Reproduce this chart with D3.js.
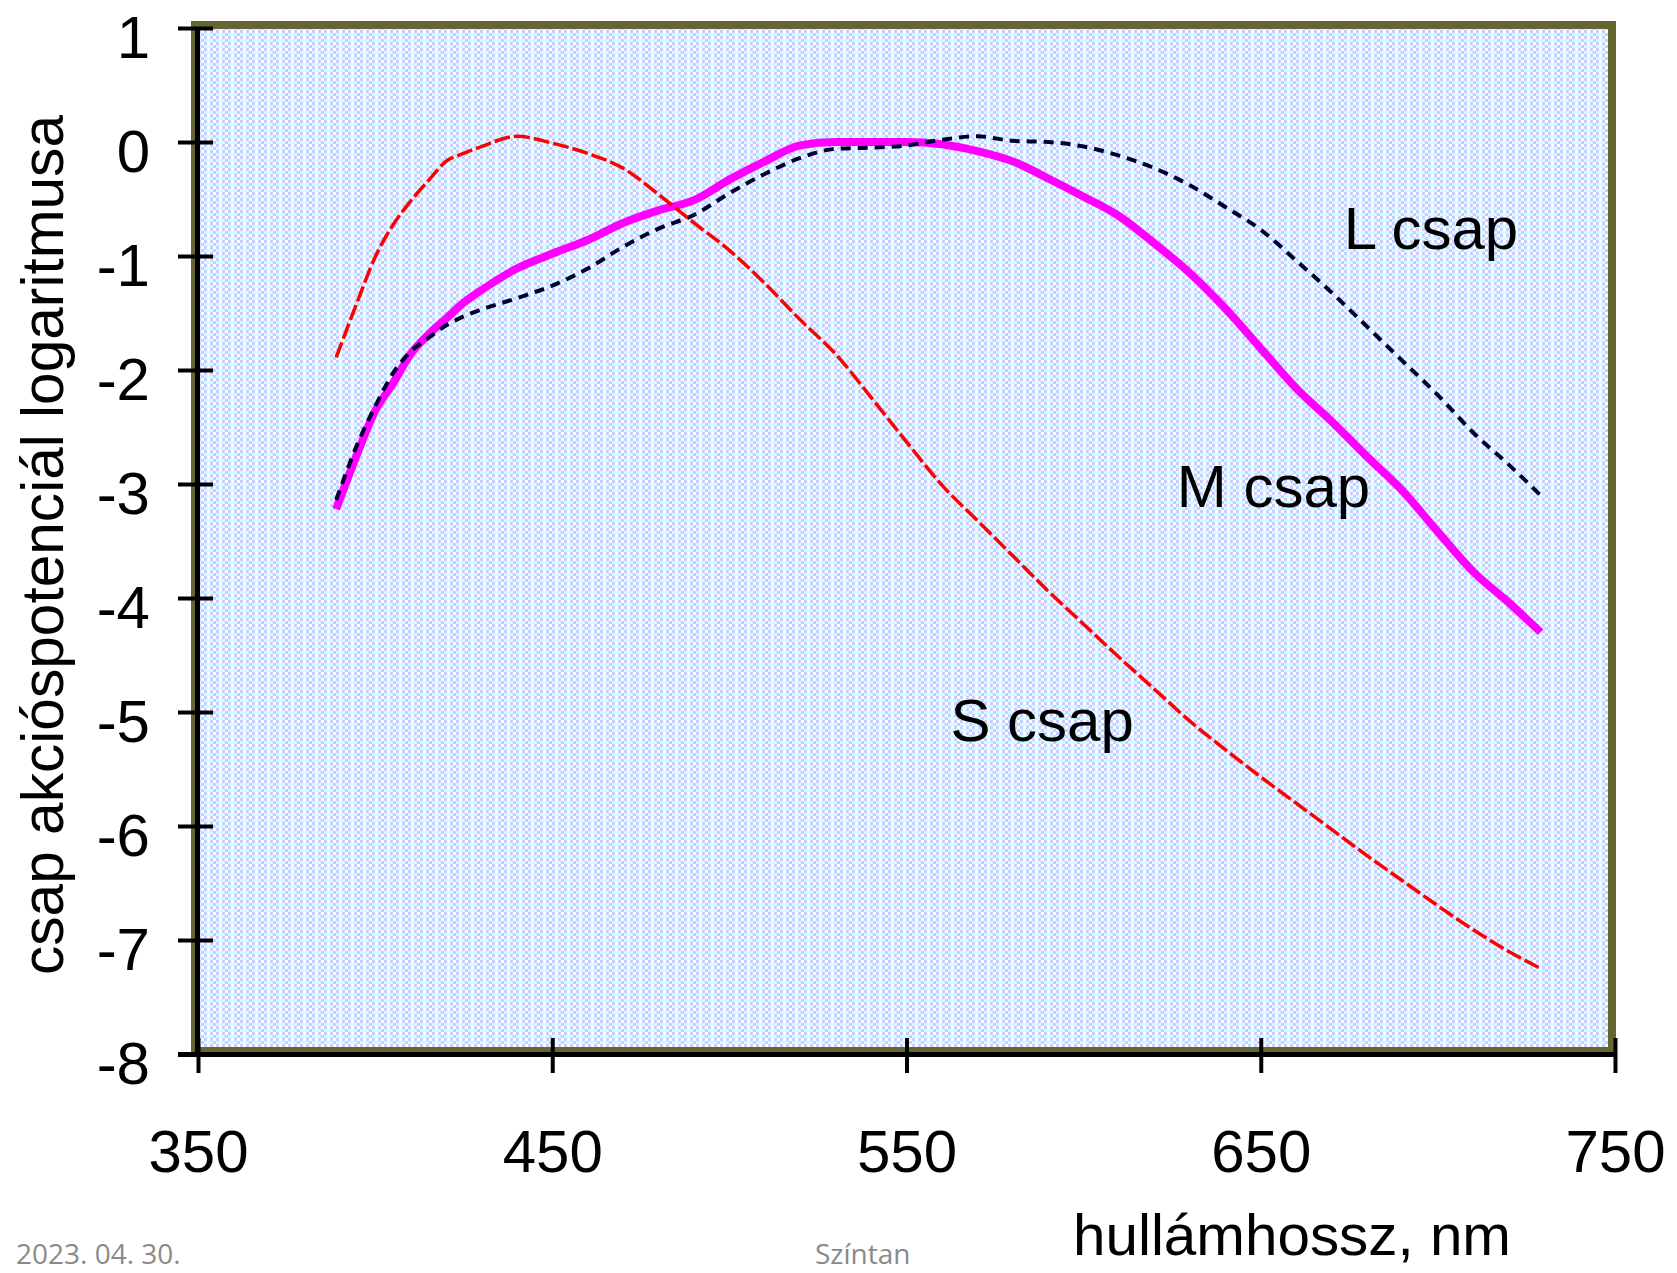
<!DOCTYPE html>
<html>
<head>
<meta charset="utf-8">
<script src="https://cdnjs.cloudflare.com/ajax/libs/d3/7.8.5/d3.min.js"></script>
<style>
    body { margin: 0; background: #ffffff; }
    svg { display: block; }
    .tick text { font-family: "Liberation Sans", Arial, sans-serif; font-size: 60px; fill: #000; }
</style>
</head>
<body>
<svg width="1677" height="1273"></svg>
<script>
// wavelength grid (nm) shared by the three cone curves
var wavelengths = [389, 395, 400, 405, 410, 415, 420, 425, 430, 440, 450, 460, 470, 480, 490,
    500, 510, 520, 530, 540, 550, 560, 570, 580, 590, 600, 610, 620, 630, 640, 650, 660,
    670, 680, 690, 700, 710, 720, 729];

// log of the action potential
var s_cone = [-1.89, -1.40, -1.01, -0.73, -0.52, -0.34, -0.17, -0.10, -0.04, 0.05, -0.01, -0.10,
    -0.23, -0.46, -0.71, -0.95, -1.24, -1.56, -1.86, -2.24, -2.63, -3.01, -3.32, -3.63, -3.94,
    -4.23, -4.52, -4.80, -5.08, -5.33, -5.57, -5.80, -6.03, -6.26, -6.48, -6.70, -6.91, -7.10, -7.25];

var m_cone = [-3.22, -2.73, -2.36, -2.12, -1.86, -1.69, -1.55, -1.41, -1.30, -1.11, -0.98, -0.86,
    -0.71, -0.60, -0.51, -0.33, -0.17, -0.03, 0.00, 0.00, 0.00, -0.02, -0.08, -0.17, -0.32,
    -0.48, -0.65, -0.89, -1.15, -1.46, -1.81, -2.16, -2.45, -2.76, -3.06, -3.42, -3.77, -4.04, -4.30];

var l_cone = [-3.14, -2.65, -2.32, -2.03, -1.84, -1.72, -1.61, -1.53, -1.47, -1.37, -1.26, -1.11,
    -0.92, -0.76, -0.64, -0.45, -0.28, -0.14, -0.06, -0.05, -0.03, 0.02, 0.05, 0.01, 0.00,
    -0.04, -0.12, -0.23, -0.38, -0.57, -0.77, -1.04, -1.32, -1.62, -1.92, -2.22, -2.55, -2.83, -3.10];

var x_ticks = [350, 450, 550, 650, 750];
var x_tick_labels = ["350", "450", "550", "650", "750"];
var y_ticks = [1, 0, -1, -2, -3, -4, -5, -6, -7, -8];
var y_tick_labels = ["1", "0", "-1", "-2", "-3", "-4", "-5", "-6", "-7", "-8"];

// curve names and where they sit (data coords)
var label_names = ["L csap", "M csap", "S csap"];
var label_wave = [673.4, 626.3, 562.4];
var label_log = [-0.94, -3.2, -5.25];

var x_title = "hullámhossz, nm";
var y_title = "csap akcióspotenciál logaritmusa";
var footer_date = "2023. 04. 30.";
var footer_name = "Színtan";

var font = "'Liberation Sans', Arial, sans-serif";

function setup_svg() {
    var svg = d3.select("svg");
    var x_scale = d3.scaleLinear().domain([350, 750]).range([198, 1615]);
    var y_scale = d3.scaleLinear().domain([-8, 1]).range([1054, 28]);
    return { svg, x_scale, y_scale };
}

function add_pattern(svg) {
    // dithered light blue fill of the plot area
    var p = svg.append("defs").append("pattern")
        .attr("id", "dither")
        .attr("patternUnits", "userSpaceOnUse")
        .attr("width", 12)
        .attr("height", 6);
    var cells = [
        ["#ccccff", "#ffffff", "#ccccff", "#ffffff"],
        ["#ccffff", "#ccffff", "#ccffff", "#ccccff"]
    ];
    cells.forEach(function (row, r) {
        row.forEach(function (c, k) {
            p.append("rect")
                .attr("x", k * 3).attr("y", r * 3)
                .attr("width", 3).attr("height", 3)
                .attr("fill", c);
        });
    });
}

function draw_frame(svg) {
    svg.append("rect")
        .attr("x", 195)
        .attr("y", 25)
        .attr("width", 1417)
        .attr("height", 1026)
        .attr("fill", "url(#dither)")
        .attr("stroke", "#666633")
        .attr("stroke-width", 8)
        .attr("shape-rendering", "crispEdges");
}

function draw_line_chart(svg, values, x_scale, y_scale, color, width, dash) {
    var line = d3.line()
        .x(function (d, i) { return x_scale(wavelengths[i]); })
        .y(function (d) { return y_scale(d); })
        .curve(d3.curveMonotoneX);

    var path = svg.append("path")
        .datum(values)
        .attr("fill", "none")
        .attr("stroke", color)
        .attr("stroke-width", width)
        .attr("d", line);
    if (dash) {
        path.attr("stroke-dasharray", dash);
    }
}

function display_axis(svg, x_scale, y_scale) {
    var y_axis = svg.append("g")
        .attr("transform", "translate(213,0)")
        .call(d3.axisLeft(y_scale)
            .tickValues(y_ticks)
            .tickSize(35)
            .tickPadding(28)
            .tickFormat(function (d, i) { return y_tick_labels[i]; }));
    y_axis.select(".domain").remove();
    y_axis.selectAll(".tick line").attr("stroke", "#000").attr("stroke-width", 4);
    y_axis.selectAll(".tick text").attr("dy", 29);

    var x_axis = svg.append("g")
        .attr("transform", "translate(0,1038)")
        .call(d3.axisBottom(x_scale)
            .tickValues(x_ticks)
            .tickSize(35)
            .tickFormat(function (d, i) { return x_tick_labels[i]; }));
    x_axis.select(".domain").remove();
    x_axis.selectAll(".tick line").attr("stroke", "#000").attr("stroke-width", 4);
    x_axis.selectAll(".tick text").attr("y", 134).attr("dy", 0);

    // black axis lines on top of the olive frame
    svg.append("line")
        .attr("x1", 197.5).attr("x2", 197.5)
        .attr("y1", 28).attr("y2", 1057)
        .attr("stroke", "#000").attr("stroke-width", 5);
    svg.append("line")
        .attr("x1", 178).attr("x2", 1617)
        .attr("y1", 1054.5).attr("y2", 1054.5)
        .attr("stroke", "#000").attr("stroke-width", 5);

    svg.append("text")
        .attr("x", 1073)
        .attr("y", 1255)
        .attr("font-family", font)
        .attr("font-size", 58)
        .attr("textLength", 438)
        .attr("lengthAdjust", "spacingAndGlyphs")
        .text(x_title);

    svg.append("text")
        .attr("transform", "translate(63,545) rotate(-90)")
        .attr("text-anchor", "middle")
        .attr("font-family", font)
        .attr("font-size", 60)
        .attr("textLength", 860)
        .attr("lengthAdjust", "spacingAndGlyphs")
        .text(y_title);
}

function display_labels(svg, x_scale, y_scale) {
    svg.selectAll(".curve-label")
        .data(label_names)
        .enter().append("text")
        .attr("class", "curve-label")
        .attr("x", function (d, i) { return x_scale(label_wave[i]); })
        .attr("y", function (d, i) { return y_scale(label_log[i]); })
        .attr("font-family", font)
        .attr("font-size", 60)
        .attr("fill", "#000")
        .text(function (d) { return d; });
}

function display_footer(svg) {
    svg.append("text")
        .attr("x", 16).attr("y", 1264)
        .attr("font-family", "'Open Sans', 'Noto Sans', sans-serif")
        .attr("font-size", 28)
        .attr("fill", "#8a8a8a")
        .text(footer_date);
    svg.append("text")
        .attr("x", 815).attr("y", 1264)
        .attr("font-family", "'Open Sans', 'Noto Sans', sans-serif")
        .attr("font-size", 28)
        .attr("fill", "#8a8a8a")
        .text(footer_name);
}

function display_chart() {
    var { svg, x_scale, y_scale } = setup_svg();
    add_pattern(svg);
    draw_frame(svg);

    draw_line_chart(svg, m_cone, x_scale, y_scale, "#ff00ff", 8, null);
    draw_line_chart(svg, l_cone, x_scale, y_scale, "#000033", 4, "10,7");
    draw_line_chart(svg, s_cone, x_scale, y_scale, "#ff0000", 3.5, "16,4");

    display_axis(svg, x_scale, y_scale);
    display_labels(svg, x_scale, y_scale);
    display_footer(svg);
}

display_chart();
</script>
</body>
</html>
